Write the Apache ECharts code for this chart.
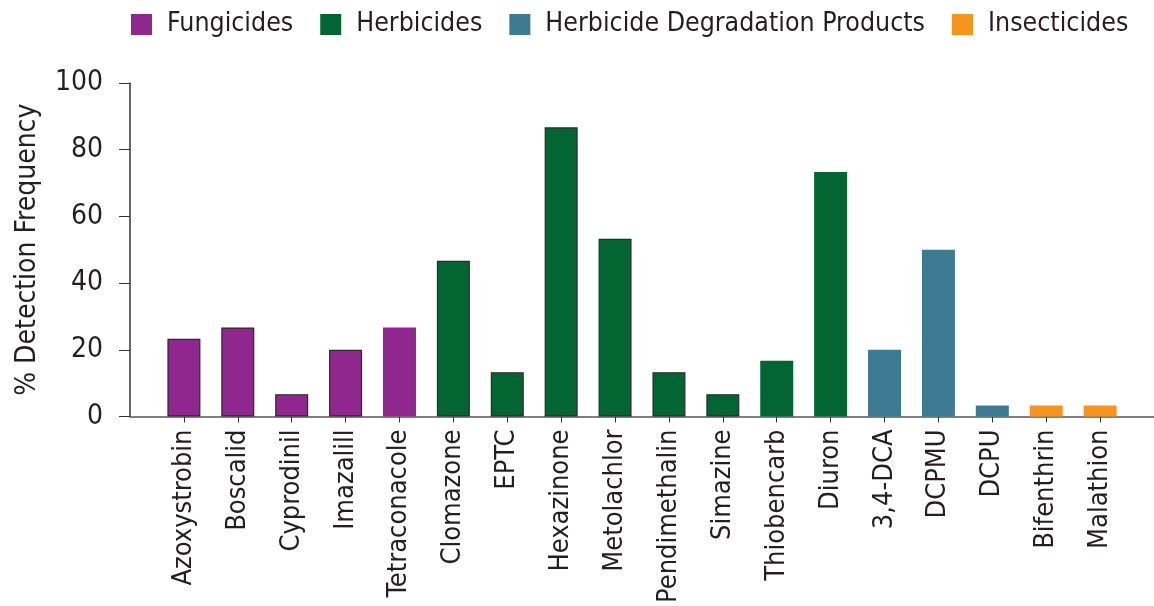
<!DOCTYPE html>
<html>
<head>
<meta charset="utf-8">
<script src="https://cdn.jsdelivr.net/npm/echarts@6/dist/echarts.min.js"></script>
<style>
  html, body { margin: 0; padding: 0; background: #fff; }
  #main { width: 1154px; height: 606px; }
</style>
</head>
<body>
<div id="main"></div>
<script>
// 数据
var categories = ['Azoxystrobin', 'Boscalid', 'Cyprodinil', 'Imazalill', 'Tetraconacole',
    'Clomazone', 'EPTC', 'Hexazinone', 'Metolachlor', 'Pendimethalin', 'Simazine',
    'Thiobencarb', 'Diuron', '3,4-DCA', 'DCPMU', 'DCPU', 'Bifenthrin', 'Malathion'];
var detection = [23.3, 26.7, 6.7, 20, 26.7, 46.7, 13.3, 86.7, 53.3, 13.3, 6.7, 16.7, 73.3, 20, 50, 3.3, 3.3, 3.3];
var classes = ['Fungicides', 'Herbicides', 'Herbicide Degradation Products', 'Insecticides'];
var classOf = [0, 0, 0, 0, 0, 1, 1, 1, 1, 1, 1, 1, 1, 2, 2, 2, 3, 3];
var yTicks = [0, 20, 40, 60, 80, 100];

// 样式
var colors = ['#90278e', '#026532', '#3d7b95', '#f7941d'];
var outlined = ['Azoxystrobin', 'Boscalid', 'Cyprodinil', 'Imazalill', 'Clomazone', 'EPTC',
    'Hexazinone', 'Metolachlor', 'Pendimethalin', 'Simazine'];
var font = "'Liberation Sans Narrow', 'DejaVu Sans Condensed', sans-serif";
var ink = '#231f20';

var series = classes.map(function (name, k) {
    var data = [];
    categories.forEach(function (cat, i) {
        if (classOf[i] !== k) return;
        var item = { value: [i, detection[i]] };
        if (outlined.indexOf(cat) >= 0) {
            item.itemStyle = { borderColor: '#2b2b2b', borderWidth: 1.2 };
        }
        data.push(item);
    });
    return {
        name: name,
        type: 'bar',
        barWidth: 33,
        barGap: '-100%',
        itemStyle: { color: colors[k] },
        data: data
    };
});

// 每个类别一个刻度
var catIndex = categories.map(function (c, i) { return i; });

var myChart = echarts.init(document.getElementById('main'));
var option = {
    animation: false,
    textStyle: { fontFamily: font, color: ink },
    legend: {
        left: 126,
        top: 6,
        width: 1100,
        itemWidth: 21,
        itemHeight: 21,
        itemGap: 27,
        icon: 'rect',
        textStyle: { fontSize: 26.5, color: ink, fontFamily: font, padding: [0, 0, 0, 10] },
        data: classes
    },
    grid: { left: 130, right: -3, top: 83, bottom: 189 },
    xAxis: {
        type: 'value',
        min: -1,
        max: 18,
        interval: 1,
        splitLine: { show: false },
        axisLine: { show: true, lineStyle: { color: '#555', width: 1.5 } },
        axisTick: { show: true, length: 6, customValues: catIndex, lineStyle: { color: '#333' } },
        axisLabel: {
            rotate: 90,
            margin: 13,
            fontSize: 27,
            color: ink,
            fontFamily: font,
            customValues: catIndex,
            formatter: function (v) { return categories[v] || ''; }
        }
    },
    yAxis: {
        type: 'value',
        min: yTicks[0],
        max: yTicks[yTicks.length - 1],
        interval: 20,
        name: '% Detection Frequency',
        nameLocation: 'middle',
        nameGap: 88,
        nameTextStyle: { fontSize: 28, color: ink, fontFamily: font },
        splitLine: { show: false },
        axisLine: { show: true, onZero: false, lineStyle: { color: '#333', width: 1.5 } },
        axisTick: { show: true, length: 11, lineStyle: { color: '#333' } },
        axisLabel: { margin: 27, fontSize: 28, color: ink, fontFamily: font }
    },
    series: series
};
myChart.setOption(option);
</script>
</body>
</html>
